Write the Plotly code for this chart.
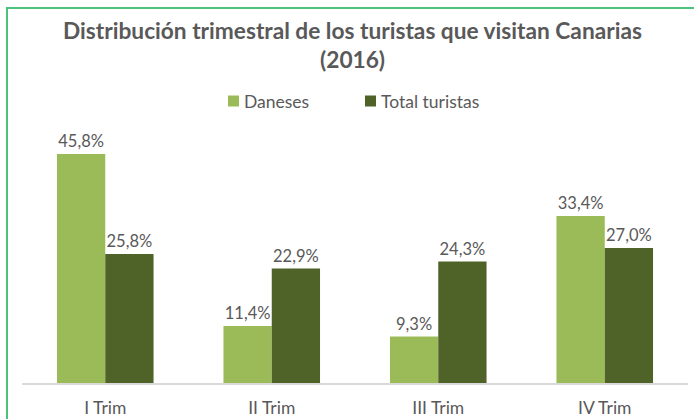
import plotly.graph_objects as go

categories = ["I Trim", "II Trim", "III Trim", "IV Trim"]
daneses = [45.8, 11.4, 9.3, 33.4]
total_turistas = [25.8, 22.9, 24.3, 27.0]
series_names = ["Daneses", "Total turistas"]
series_colors = ["#9BBB59", "#4F6228"]
title_lines = ["Distribución trimestral de los turistas que visitan Canarias", "(2016)"]

FONT = "Lato"
GREY = "#595959"

def fmt(v):
    return f"{v:.1f}%".replace(".", ",")

fig = go.Figure()
for name, vals, col in zip(series_names, [daneses, total_turistas], series_colors):
    fig.add_trace(go.Bar(
        x=categories, y=vals, name=name,
        marker=dict(color=col, line=dict(width=0)),
        text=[fmt(v) for v in vals], textposition="outside",
        textfont=dict(size=16.5, color=GREY, family=FONT), cliponaxis=False,
        showlegend=False,
    ))

W, H = 694, 419
L, R, T, B = 22, 6, 133, 36
pw, ph = W - L - R, H - T - B

def px_x(x):
    return (x - L) / pw

def px_y(y):
    return (H - B - y) / ph

annotations = []
for line, ypx in zip(title_lines, [30, 60]):
    annotations.append(dict(text="<b>" + line + "</b>", xref="paper", yref="paper",
                            x=px_x(352), y=px_y(ypx), xanchor="center", yanchor="middle",
                            showarrow=False, font=dict(size=22.7, color=GREY, family=FONT)))

shapes = [dict(type="rect", xref="paper", yref="paper",
               x0=px_x(7), x1=px_x(W + 20), y0=px_y(H + 20), y1=px_y(8),
               line=dict(color="#4CC27A", width=2), fillcolor="rgba(0,0,0,0)", layer="below")]

# legend (drawn manually to match spacing)
legend_sq_x = [228, 365]
legend_y = 101
for name, col, sx in zip(series_names, series_colors, legend_sq_x):
    shapes.append(dict(type="rect", xref="paper", yref="paper",
                       x0=px_x(sx), x1=px_x(sx + 11), y0=px_y(legend_y + 5.5), y1=px_y(legend_y - 5.5),
                       line=dict(width=0), fillcolor=col))
    annotations.append(dict(text=name, xref="paper", yref="paper",
                            x=px_x(sx + 14), y=px_y(legend_y), xanchor="left", yanchor="middle",
                            showarrow=False, font=dict(size=17.5, color=GREY, family=FONT)))

fig.update_layout(
    width=W, height=H,
    margin=dict(l=L, r=R, t=T, b=B, autoexpand=False),
    paper_bgcolor="white", plot_bgcolor="white",
    barmode="group", bargap=0.42, bargroupgap=0,
    font=dict(family=FONT, color=GREY),
    annotations=annotations,
    showlegend=False,
    xaxis=dict(showline=True, linecolor="#D9D9D9", linewidth=1.5, showgrid=False,
               automargin=False,
               ticks="outside", ticklen=8, tickcolor="rgba(0,0,0,0)",
               tickfont=dict(size=17.5, color=GREY, family=FONT), fixedrange=True),
    yaxis=dict(range=[0, 50], visible=False, showgrid=False, zeroline=False, automargin=False),
    shapes=shapes,
)

fig.write_html("out.html")
